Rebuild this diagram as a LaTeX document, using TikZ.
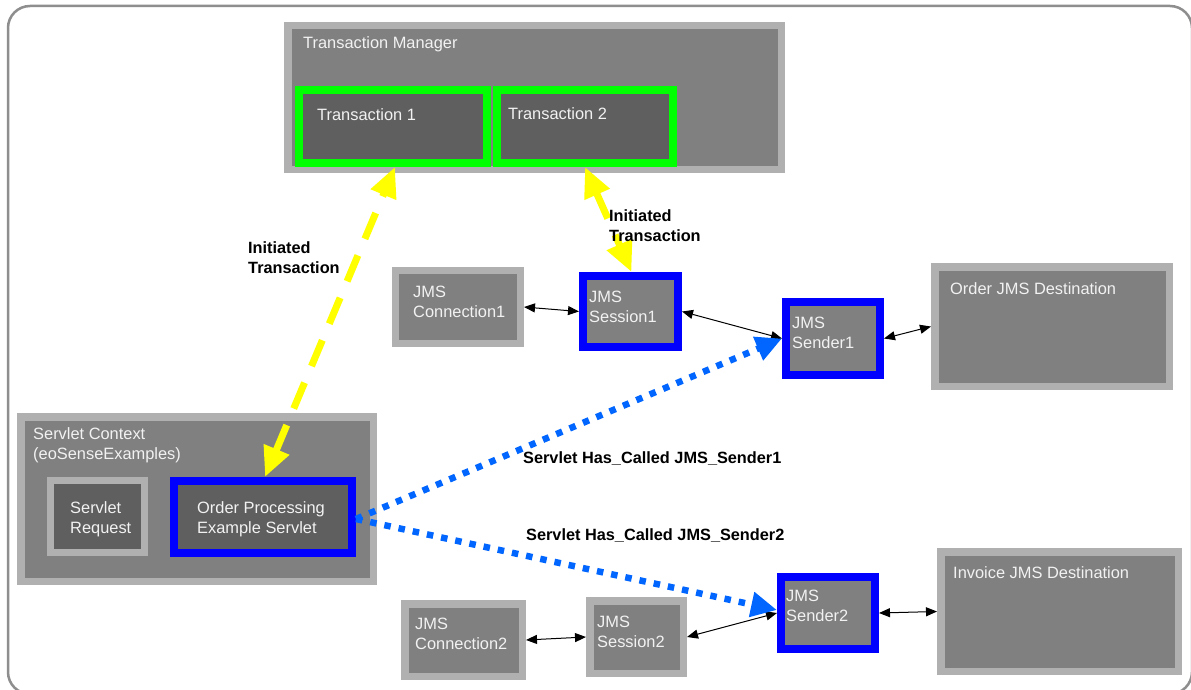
\documentclass[tikz,border=0pt]{standalone}
\usepackage{fontspec}
\setmainfont{Liberation Sans}
\usetikzlibrary{arrows.meta}

\definecolor{rimgray}{HTML}{B0B0B0}
\definecolor{bodygray}{HTML}{808080}
\definecolor{deepgray}{HTML}{5F5F5F}
\definecolor{txgreen}{HTML}{00FF00}
\definecolor{actblue}{HTML}{0000FF}
\definecolor{callblue}{HTML}{0066FF}
\definecolor{txyellow}{HTML}{FFFF00}
\definecolor{boxtext}{HTML}{F2F2F2}
\definecolor{framegray}{HTML}{8E8E8E}

% \panel{style}{name}{x1}{y1}{x2}{y2}{border width}: a box given by its outer edges
\newcommand\panel[7]{%
  \node[#1, line width=#7pt, minimum width={#5-#3-#7}, minimum height={#6-#4-#7}]
    (#2) at ({(#3+#5)/2},{(#4+#6)/2}) {};}
% left-aligned lines whose baseline is the first line's
\newcommand\stack[1]{\begin{tabular}[t]{@{}l@{}}#1\end{tabular}}

\begin{document}
\begin{tikzpicture}[x=1pt,y=-1pt,
  rimbox/.style={draw=rimgray, fill=bodygray, inner sep=0pt},
  rimdeep/.style={draw=rimgray, fill=deepgray, inner sep=0pt},
  txbox/.style={draw=txgreen, fill=deepgray, inner sep=0pt},
  actbox/.style={draw=actblue, fill=bodygray, inner sep=0pt},
  actdeep/.style={draw=actblue, fill=deepgray, inner sep=0pt},
  boxtxt/.style={anchor=base west, inner sep=0pt, text=boxtext, font=\fontsize{16.4}{20}\selectfont},
  edgetxt/.style={anchor=base west, inner sep=0pt, text=black, font=\bfseries\fontsize{16.3}{20}\selectfont},
  wire/.style={draw=black, line width=1pt, {Triangle[length=11pt,width=9pt]}-{Triangle[length=11pt,width=9pt]}},
  txwire/.style={draw=txyellow, line width=7pt, dash pattern=on 28pt off 18pt,
    {Triangle[length=30pt,width=26pt]}-{Triangle[length=30pt,width=26pt]}},
  callwire/.style={draw=callblue, line width=6.5pt, dash pattern=on 6.5pt off 8pt,
    -{Triangle[length=26pt,width=24pt]}}
]
\useasboundingbox (0,0) rectangle (1191,690);
\fill[white] (0,0) rectangle (1191,690);
\draw[framegray, line width=2.5pt, rounded corners=22pt] (8,6) rectangle (1192,694);

% transaction manager
\panel{rimbox}{tm}{284}{22}{785}{173}{7.5}
\panel{txbox}{t1}{295}{86}{491}{167}{8}
\panel{txbox}{t2}{493}{86}{677}{167}{8}

% servlet context
\panel{rimbox}{sc}{17}{413}{377}{585}{7.5}
\panel{rimdeep}{sr}{47}{477}{148}{556}{7}
\panel{actdeep}{ops}{170}{477}{356}{557}{8}

% order path
\panel{rimbox}{c1}{392}{267}{524}{347}{7}
\panel{actbox}{s1}{579}{272}{682}{351}{8}
\panel{actbox}{snd1}{782}{298}{884}{379}{8}
\panel{rimbox}{od}{931}{263}{1173}{390}{7.5}

% invoice path
\panel{rimbox}{c2}{401}{600}{526}{680}{7.5}
\panel{rimbox}{s2}{586}{597}{687}{677}{7.5}
\panel{actbox}{snd2}{777}{573}{879}{653}{8}
\panel{rimbox}{inv}{937}{548}{1182}{675}{7.5}

% box captions
\node[boxtxt] (tm-t) at (303,49) {Transaction Manager};
\node[boxtxt] (t1-t) at (317,121) {Transaction 1};
\node[boxtxt] (t2-t) at (508,120) {Transaction 2};
\node[boxtxt] (sc-t) at (33,439) {\stack{Servlet Context\\(eoSenseExamples)}};
\node[boxtxt] (sr-t) at (70,513) {\stack{Servlet\\Request}};
\node[boxtxt] (ops-t) at (197,513) {\stack{Order Processing\\Example Servlet}};
\node[boxtxt] (c1-t) at (413,297) {\stack{JMS\\Connection1}};
\node[boxtxt] (s1-t) at (589,302) {\stack{JMS\\Session1}};
\node[boxtxt] (snd1-t) at (792,328) {\stack{JMS\\Sender1}};
\node[boxtxt] (od-t) at (950,294) {Order JMS Destination};
\node[boxtxt] (c2-t) at (415,629) {\stack{JMS\\Connection2}};
\node[boxtxt] (s2-t) at (597,627) {\stack{JMS\\Session2}};
\node[boxtxt] (snd2-t) at (786,601) {\stack{JMS\\Sender2}};
\node[boxtxt] (inv-t) at (953,578) {Invoice JMS Destination};

% JMS object links
\draw[wire] (c1.east) -- (s1.west);
\draw[wire] (s1.east) -- (snd1.west);
\draw[wire] (snd1.east) -- (od.west);
\draw[wire] (c2.east) -- (s2.west);
\draw[wire] (s2.east) -- (snd2.west);
\draw[wire] (snd2.east) -- (inv.west);

% transaction links
\draw[txwire] ([xshift=2pt]ops.north) -- ([xshift=2pt]t1.south);
\draw[txwire] (t2.south) -- ([xshift=1pt]s1.north);

% servlet calls
\draw[callwire] ([yshift=-2pt]ops.east) -- (snd1.west);
\draw[callwire] ([yshift=-2pt]ops.east) -- ([yshift=3pt]snd2.west);

% link labels
\node[edgetxt] (tx1-l) at (248,253) {\stack{Initiated\\Transaction}};
\node[edgetxt] (tx2-l) at (609,221) {\stack{Initiated\\Transaction}};
\node[edgetxt] (call1-l) at (523,463) {Servlet Has\_Called JMS\_Sender1};
\node[edgetxt] (call2-l) at (526,540) {Servlet Has\_Called JMS\_Sender2};
\end{tikzpicture}
\end{document}
